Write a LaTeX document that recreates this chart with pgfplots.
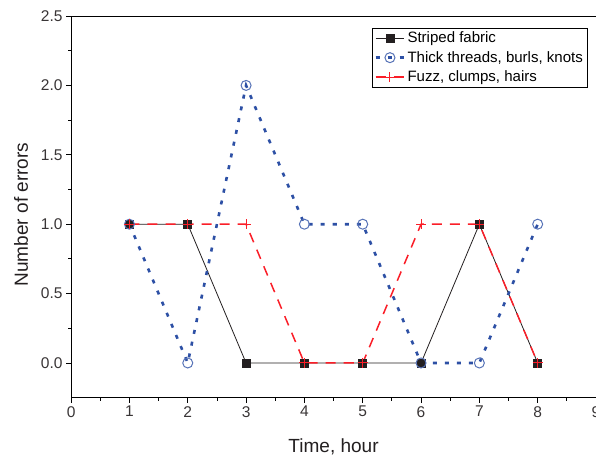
\documentclass[border=0pt]{standalone}
\usepackage{fontspec}
\setmainfont{Liberation Sans}
\usepackage{pgfplots}
\pgfplotsset{compat=1.18}

\definecolor{blk}{RGB}{35,31,32}
\definecolor{bl}{RGB}{45,80,165}
\definecolor{rd}{RGB}{250,30,40}

\pgfplotsset{
    every axis plot/.append style={
        legend image code/.code={
            \draw[mark repeat=2, mark phase=2, #1] plot coordinates {(0cm,0cm) (0.5cm,0cm) (1cm,0cm)};
        }
    }
}

\begin{document}
\begin{tikzpicture}
\begin{axis}[
    scale only axis,
    width=524pt,
    height=381pt,
    xmin=0, xmax=9,
    ymin=-0.25, ymax=2.5,
    xtick={0,1,...,9},
    ytick={0,0.5,1,1.5,2,2.5},
    minor x tick num=1,
    minor y tick num=1,
    tick align=outside,
    xtick pos=bottom,
    ytick pos=left,
    major tick length=5pt,
    minor tick length=3pt,
    axis line style={line width=0.8pt},
    every tick/.style={line width=0.8pt, black},
    /pgf/number format/assume math mode=true,
    yticklabel style={/pgf/number format/fixed, /pgf/number format/zerofill, /pgf/number format/precision=1},
    tick label style={font=\fontsize{15.5}{18}\selectfont, color=blk!90},
    xlabel={Time, hour},
    ylabel={Number of errors},
    every axis x label/.style={at={(axis description cs:0.5,-0.1286)}, anchor=center},
    every axis y label/.style={at={(axis description cs:-0.0954,0.48)}, rotate=90, anchor=center},
    label style={font=\fontsize{19}{22}\selectfont, color=blk},
    legend style={at={(axis description cs:0.983,0.969)}, anchor=north east,
        font=\fontsize{15}{17}\selectfont,
        inner sep=2pt, row sep=3pt, cells={anchor=west}},
]
\addplot[blk, line width=0.8pt, mark=square*, mark size=4pt, mark options={solid, fill=blk}] coordinates {
    (1,1) (2,1) (3,0) (4,0) (5,0) (6,0) (7,1) (8,0)
};
\addlegendentry{Striped fabric}
\addplot[bl, line width=2.6pt, dash pattern=on 4pt off 8pt, mark=o, mark size=5pt,
    mark options={solid, fill=white, line width=1pt, draw=bl!80!white}] coordinates {
    (1,1) (2,0) (3,2) (4,1) (5,1) (6,0) (7,0) (8,1)
};
\addlegendentry{Thick threads, burls, knots}
\addplot[rd, line width=1.5pt, dash pattern=on 10pt off 8pt, mark=+, mark size=5pt,
    mark options={solid, line width=1pt}] coordinates {
    (1,1) (2,1) (3,1) (4,0) (5,0) (6,1) (7,1) (8,0)
};
\addlegendentry{Fuzz, clumps, hairs}
\end{axis}
\pgfresetboundingbox
\path ([xshift=-71pt,yshift=-59pt]current axis.south west) rectangle ([yshift=16pt]current axis.north east);
\end{tikzpicture}
\end{document}
